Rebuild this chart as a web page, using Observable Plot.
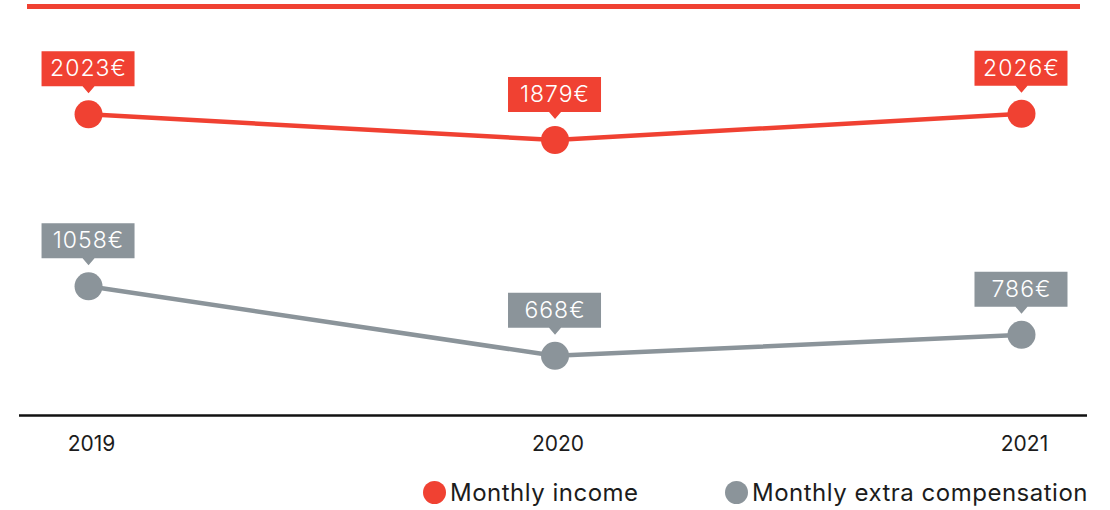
<!DOCTYPE html>
<html>
<head>
<meta charset="utf-8">
<script src="https://cdn.jsdelivr.net/npm/d3@7"></script>
<script src="https://cdn.jsdelivr.net/npm/@observablehq/plot@0.6"></script>
<style>
  html, body { margin: 0; padding: 0; background: #fff; }
  #wrap { position: relative; width: 1110px; height: 510px; overflow: hidden; font-family: Inter, "Open Sans", sans-serif; }
  #chart { position: absolute; left: 0; top: 0; }
  #topbar { position: absolute; left: 27px; top: 4px; width: 1053px; height: 5px; background: #f04132; }
  .leg { position: absolute; top: 480px; height: 24px; display: flex; align-items: center; font-size: 24px; letter-spacing: 0.5px; color: #1c1c1c; white-space: nowrap; }
  .leg .sw { width: 23px; height: 23px; border-radius: 50%; margin-right: 4px; flex: none; }
  .callout-text { letter-spacing: 1px; }
</style>
</head>
<body>
<div id="wrap">
  <div id="chart"></div>
  <div id="topbar"></div>
  <div id="legend"></div>
</div>
<script>
// ---- data ----
const years = [2019, 2020, 2021];
const incomeValues = [2023, 1879, 2026];
const extraValues = [1058, 668, 786];
const seriesNames = ["Monthly income", "Monthly extra compensation"];
const seriesColors = ["#f04132", "#8b949a"];
const currency = "€";

// ---- build rows ----
const rows = [];
years.forEach((yr, i) => {
  rows.push({year: yr, value: incomeValues[i], series: seriesNames[0]});
  rows.push({year: yr, value: extraValues[i], series: seriesNames[1]});
});

// callout box with a small pointer, drawn relative to the point
const callout = {
  draw(ctx) {
    ctx.moveTo(-47, -63);
    ctx.lineTo(46, -63);
    ctx.lineTo(46, -28);
    ctx.lineTo(6, -28);
    ctx.lineTo(0, -21);
    ctx.lineTo(-6, -28);
    ctx.lineTo(-47, -28);
    ctx.closePath();
  }
};

const yMin = 333, yMax = 2662;

const chart = Plot.plot({
  width: 1110,
  height: 470,
  marginLeft: 19,
  marginRight: 23,
  marginTop: 0,
  marginBottom: 55,
  style: {fontFamily: "Inter, 'Open Sans', sans-serif", fontSize: "21px", color: "#1c1c1c", background: "transparent"},
  x: {domain: [2018.852, 2021.1415], axis: null},
  y: {domain: [yMin, yMax], axis: null},
  color: {domain: seriesNames, range: seriesColors},
  marks: [
    Plot.ruleY([yMin], {stroke: "#111", strokeWidth: 2.5}),
    Plot.text(years, {x: d => d, frameAnchor: "bottom", dy: 29, dx: 3, text: d => String(d), fontSize: 21, fill: "#1c1c1c", lineAnchor: "middle"}),
    Plot.line(rows, {x: "year", y: "value", z: "series", stroke: "series", strokeWidth: 4.5}),
    Plot.dot(rows, {x: "year", y: "value", fill: "series", r: 14, stroke: "none"}),
    Plot.dot(rows, {x: "year", y: "value", fill: "series", symbol: callout, r: 10, stroke: "none"}),
    Plot.text(rows, {x: "year", y: "value", text: d => `${d.value}${currency}`, dy: -45.5, dx: 0, fill: "white", fontSize: 23, fontWeight: 300, lineAnchor: "middle", className: "callout-text"})
  ]
});
document.getElementById("chart").appendChild(chart);

// ---- legend ----
const legend = document.getElementById("legend");
const legendLefts = [423, 725];
seriesNames.forEach((name, i) => {
  const item = document.createElement("div");
  item.className = "leg";
  item.style.left = legendLefts[i] + "px";
  const sw = document.createElement("span");
  sw.className = "sw";
  sw.style.background = seriesColors[i];
  const lab = document.createElement("span");
  lab.textContent = name;
  item.appendChild(sw);
  item.appendChild(lab);
  legend.appendChild(item);
});
</script>
</body>
</html>
